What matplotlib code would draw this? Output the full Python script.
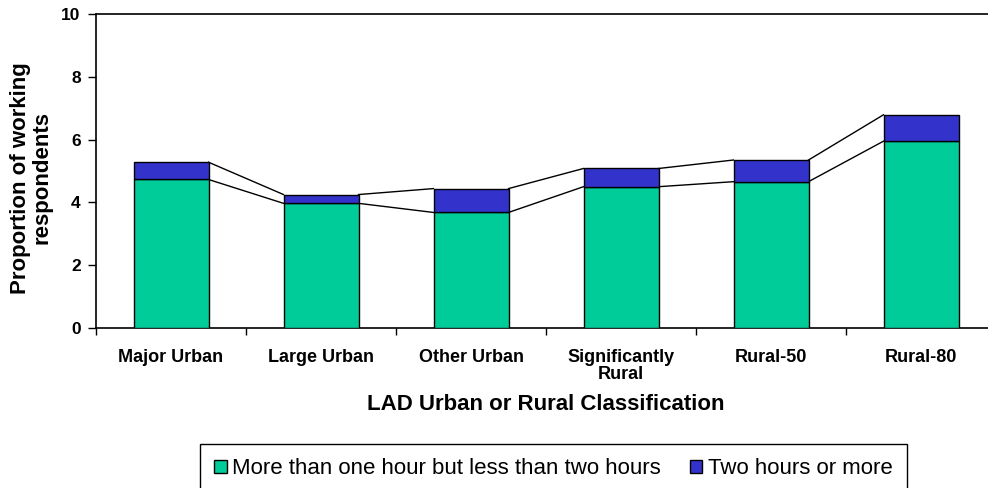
import matplotlib
matplotlib.use('Agg')
import matplotlib.pyplot as plt
import numpy as np

plt.rcParams['font.family'] = ['Liberation Sans', 'DejaVu Sans']

categories = ['Major Urban', 'Large Urban', 'Other Urban',
              'Significantly\nRural', 'Rural-50', 'Rural-80']
one_to_two_hours = [4.73, 3.97, 3.68, 4.50, 4.66, 5.95]
two_plus_hours = [0.55, 0.28, 0.76, 0.58, 0.69, 0.84]

green = '#00CC99'
blue = '#3333CC'
bar_w = 0.5

fig = plt.figure(figsize=(9.88, 4.88), dpi=100)
ax = fig.add_axes([96 / 988, 1 - 328 / 488, 900 / 988, 314 / 488])

x = np.arange(len(categories))
low = np.array(one_to_two_hours)
high = low + np.array(two_plus_hours)

ax.bar(x, low, bar_w, color=green, edgecolor='black', linewidth=1,
       label='More than one hour but less than two hours', zorder=3)
ax.bar(x, two_plus_hours, bar_w, bottom=low, color=blue, edgecolor='black',
       linewidth=1, label='Two hours or more', zorder=3)

# series lines between the stacks
for i in range(len(categories) - 1):
    for tops in (low, high):
        ax.plot([x[i] + bar_w / 2, x[i + 1] - bar_w / 2], [tops[i], tops[i + 1]],
                color='black', linewidth=1, zorder=2)

ax.set_xlim(-0.5, len(categories) - 0.5)
ax.set_ylim(0, 10)
ax.set_yticks(np.arange(0, 11, 2))
ax.set_xticks(x)
ax.set_xticklabels(categories, fontsize=13, fontweight='bold', linespacing=1.0)
ax.set_xticks(np.arange(-0.5, len(categories), 1), minor=True)
ax.tick_params(axis='x', which='major', length=0, pad=15)
ax.tick_params(axis='x', which='minor', length=5, width=1, direction='out')
ax.tick_params(axis='y', length=6, width=1, direction='out', pad=5,
               labelsize=12.5)
for lbl in ax.get_yticklabels():
    lbl.set_fontweight('bold')
for s in ax.spines.values():
    s.set_linewidth(1.2)

fig.text(546 / 988, 1 - 404 / 488, 'LAD Urban or Rural Classification',
         ha='center', va='center', fontsize=16, fontweight='bold')
fig.text(31 / 988, 1 - 178 / 488, 'Proportion of working\nrespondents',
         ha='center', va='center', rotation=90, fontsize=16,
         fontweight='bold', linespacing=1.05)

leg = fig.legend(loc='upper left', bbox_to_anchor=(200 / 988, 1 - 444 / 488),
                 ncol=2, fontsize=16, frameon=True, fancybox=False,
                 edgecolor='black', handlelength=0.55, handleheight=0.55,
                 handletextpad=0.25, columnspacing=1.3, borderpad=0.65,
                 borderaxespad=0)
leg.get_frame().set_linewidth(1)
leg.get_frame().set_alpha(1)

fig.savefig('out.png', dpi=100)
